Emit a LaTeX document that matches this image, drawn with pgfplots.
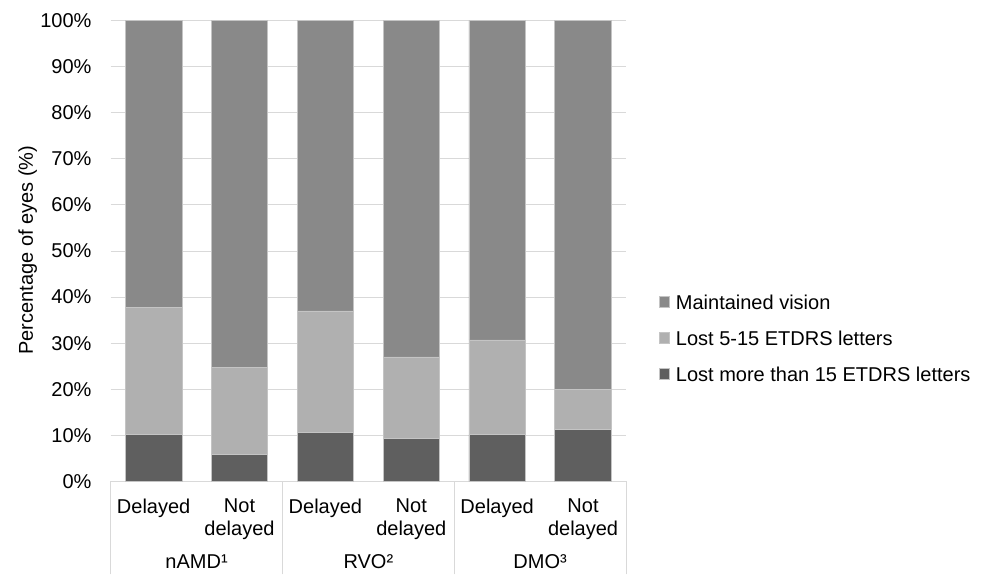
\documentclass[border=0pt]{standalone}
\usepackage{fontspec}
\setmainfont{Liberation Sans}
\usepackage{pgfplots}
\pgfplotsset{compat=1.18}
\definecolor{cmain}{HTML}{898989}
\definecolor{clight}{HTML}{B0B0B0}
\definecolor{cdark}{HTML}{5F5F5F}
\definecolor{cgrid}{HTML}{D9D9D9}
\definecolor{cedge}{HTML}{C4C4C4}
\newcommand{\lblfont}{\fontsize{20}{22.7}\selectfont}
\begin{document}
\begin{tikzpicture}
\path[use as bounding box] (-110.7pt,-92.7pt) rectangle (876.3pt,481.3pt);
\begin{axis}[
  at={(0pt,0pt)}, anchor=south west,
  scale only axis, width=515.3pt, height=460.6pt,
  clip=false,
  ybar stacked, bar width=56.5pt,
  xmin=-0.5, xmax=5.5, ymin=0, ymax=100,
  axis line style={draw=none},
  major tick length=0pt,
  tick pos=left,
  xtick={0,1,2,3,4,5},
  xticklabels={Delayed, Not\\delayed, Delayed, Not\\delayed, Delayed, Not\\delayed},
  xticklabel style={align=center, anchor=north, inner sep=0pt, yshift=-17.7pt, font=\lblfont},
  ytick={0,10,...,100},
  yticklabels={0\%,10\%,20\%,30\%,40\%,50\%,60\%,70\%,80\%,90\%,100\%},
  yticklabel style={anchor=east, inner sep=0pt, xshift=-19pt, font=\lblfont},
  ymajorgrids, grid style={cgrid, line width=1pt},
  extra x ticks={-0.5,1.5,3.5,5.5},
  extra x tick labels={},
  extra x tick style={major tick length=93pt, tick align=outside, tick style={draw=cgrid, line width=1pt}, grid=none},
  ylabel={Percentage of eyes (\%)},
  ylabel style={at={(axis description cs:-0.1508,0.502)}, anchor=base, inner sep=0pt, font=\lblfont},
  reverse legend,
  legend style={at={(axis description cs:1.0627,0.4092)}, anchor=north west, draw=none, fill=none,
    inner sep=0pt, row sep=14pt, column sep=4.2pt, font=\lblfont, cells={anchor=base west},
    nodes={inner sep=2pt, text height=14pt, text depth=4pt}},
  legend image code/.code={\fill[#1] (0pt,2pt) rectangle (10.5pt,12.5pt);},
]
\addplot[fill=cdark, draw=cedge, line width=0.7pt] coordinates {(0,10.2) (1,5.9) (2,10.7) (3,9.3) (4,10.1) (5,11.3)};
\addlegendentry{Lost more than 15 ETDRS letters}
\addplot[fill=clight, draw=cedge, line width=0.7pt] coordinates {(0,27.6) (1,18.8) (2,26.3) (3,17.7) (4,20.6) (5,8.7)};
\addlegendentry{Lost 5-15 ETDRS letters}
\addplot[fill=cmain, draw=cedge, line width=0.7pt] coordinates {(0,62.2) (1,75.3) (2,63.0) (3,73.0) (4,69.3) (5,80.0)};
\addlegendentry{Maintained vision}
\node[font=\lblfont, anchor=base] at (axis cs:0.5,0) [yshift=-87.5pt] {nAMD¹};
\node[font=\lblfont, anchor=base] at (axis cs:2.5,0) [yshift=-87.5pt] {RVO²};
\node[font=\lblfont, anchor=base] at (axis cs:4.5,0) [yshift=-87.5pt] {DMO³};
\end{axis}
\end{tikzpicture}
\end{document}
